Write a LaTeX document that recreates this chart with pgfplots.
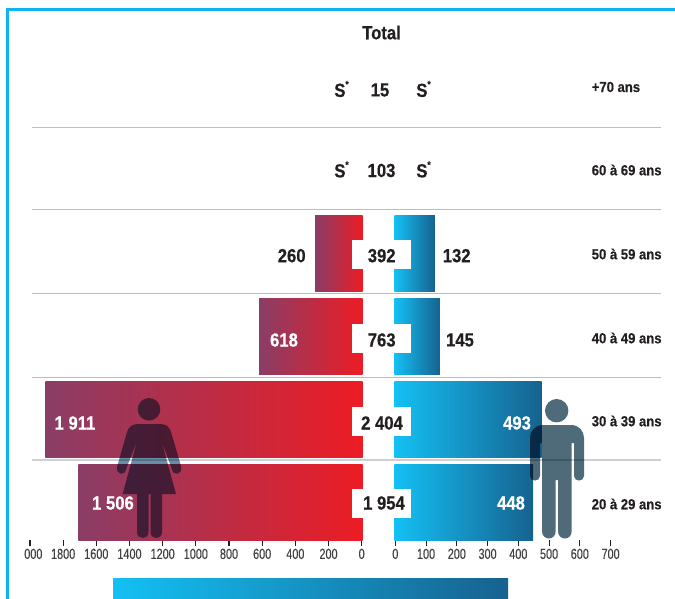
\documentclass[border=0pt]{standalone}
\usepackage{pgfplots}
\pgfplotsset{compat=1.18}
\usepackage{fontspec}
\setmainfont{Liberation Sans}
\newfontfamily\lab[FakeStretch=0.88,FakeBold=0.5]{Liberation Sans}
\newfontfamily\rowf[FakeStretch=0.9,FakeBold=0.3]{Liberation Sans}
\newfontfamily\tk[FakeStretch=0.74,FakeBold=0.2]{Liberation Sans}
\definecolor{wl}{HTML}{8A3D66}
\definecolor{wm}{HTML}{BC3146}
\definecolor{wr}{HTML}{ED1C24}
\definecolor{ml}{HTML}{14C0F4}
\definecolor{mm}{HTML}{0E9CCB}
\definecolor{mr}{HTML}{16628F}
\definecolor{sep}{HTML}{BDBDBD}
\definecolor{sepb}{HTML}{D0D0D0}
\definecolor{txt}{HTML}{231F20}
\definecolor{fig}{HTML}{4F6A79}
\definecolor{figw}{HTML}{6A8CA5}
\definecolor{frame}{HTML}{0DB4EF}
\pgfplotsset{
 common/.style={scale only axis,height=370.875pt,ymin=-0.4578,ymax=5.5,
  hide y axis,axis x line*=bottom,x axis line style={draw=none},
  tick align=outside,xtick pos=bottom,
  major tick length=4.5pt,
  tick style={draw=txt,line width=0.8pt},
  every tick label/.append style={font=\tk\fontsize{11}{11}\selectfont,text=txt!85,yshift=1.5pt},
  /pgf/number format/assume math mode=true,
  clip=false,
  xbar,bar width=57pt,bar shift=0pt},
 wbar/.style={draw=none,left color=wl,middle color=wm,right color=wr,forget plot,xshift=0.75pt},
 mbar/.style={draw=none,left color=ml,middle color=mm,right color=mr,forget plot,xshift=-0.75pt}
}
\newcommand{\Sst}{S\raisebox{0.5em}{\fontsize{7}{7}\selectfont *}}
\begin{document}
\begin{tikzpicture}[x=0.75pt,y=-0.75pt]
\useasboundingbox (0,0) rectangle (675,599);
% frame
\fill[frame] (6,8) rectangle (675,11);
\fill[frame] (6,8) rectangle (9,599);
% separators
\foreach \yy in {127.5,209.5,293.5,377.5}
  \draw[sep,line width=0.75pt] (32,\yy) -- (661,\yy);
\draw[sepb,line width=1.2pt] (32,460) -- (661,460);
% women
\begin{axis}[common,at={(22.5pt,-405pt)},anchor=south west,width=248.775pt,
  xmin=0,xmax=2000,x dir=reverse,
  xtick={0,200,...,2000},
  xticklabels={0,200,400,600,800,1000,1200,1400,1600,1800,\hspace{5pt}000}]
\addplot[wbar] coordinates {(1715,0)};
\addplot[wbar] coordinates {(1914,1)};
\addplot[wbar] coordinates {(624,2)};
\addplot[wbar] coordinates {(287,3)};
\end{axis}
% men
\begin{axis}[common,at={(296.475pt,-405pt)},anchor=south west,width=161.475pt,
  xmin=0,xmax=700,
  xtick={0,100,...,700}]
\addplot[mbar] coordinates {(451,0)};
\addplot[mbar] coordinates {(479,1)};
\addplot[mbar] coordinates {(148,2)};
\addplot[mbar] coordinates {(132,3)};
\end{axis}
% white boxes for totals
\foreach \yy in {254.3,338.5,421.5,503.5}
  \fill[white] (352,\yy-14.5) rectangle (411,\yy+14.5);
% colour bar
\shade[left color=ml,middle color=mm,right color=mr] (113,578) rectangle (508,599);
% figures
\begin{scope}[blend mode=multiply]
\fill[figw] (149,409.3) circle[radius=11.3];
\fill[figw] (138,424) -- (160.5,424) .. controls (166,424) and (169.5,427) .. (171,432)
 -- (181,466) .. controls (183,475) and (173,477) .. (171.5,468)
 -- (161.5,441) -- (176,494) -- (162,494) -- (162,532)
 .. controls (162,540) and (150.5,540) .. (150.5,532) -- (150.5,494) -- (148.5,494) -- (148.5,532)
 .. controls (148.5,540) and (137,540) .. (137,532) -- (137,494) -- (122.7,494)
 -- (137,441) -- (126.5,468)
 .. controls (125,477) and (115,475) .. (117.3,466) -- (127,432)
 .. controls (128.5,427) and (132,424) .. (138,424) -- cycle;
\fill[fig] (556.7,410.7) circle[radius=11.7];
\fill[fig] (543,425) -- (571,425) .. controls (579,425) and (584,431) .. (584,438)
 -- (584,476) .. controls (584,482) and (574,482) .. (574,476) -- (574,443) -- (571.7,443)
 -- (571.7,531) .. controls (571.7,541) and (558,541) .. (558,531) -- (558,480) -- (555.7,480)
 -- (555.7,531) .. controls (555.7,541) and (542,541) .. (542,531) -- (542,443) -- (540,443)
 -- (540,476) .. controls (540,482) and (530,482) .. (530,476) -- (530,438)
 .. controls (530,431) and (535,425) .. (543,425) -- cycle;
\end{scope}
% texts
\tikzset{vl/.style={font=\lab\bfseries\fontsize{14.2}{15}\selectfont,text=txt,inner sep=0pt},
 vw/.style={vl,text=white},
 rl/.style={font=\rowf\bfseries\fontsize{10.9}{12}\selectfont,text=txt,inner sep=0pt,anchor=west}}
\node[vl] at (381.5,32.5) {Total};
\node[vl] at (341.5,89) {\Sst};
\node[vl] at (380,90) {15};
\node[vl] at (423.5,89) {\Sst};
\node[vl] at (341.5,169.5) {\Sst};
\node[vl] at (381.5,170.5) {103};
\node[vl] at (423.5,169.5) {\Sst};
\node[vl] at (291.7,255.7) {260};
\node[vl] at (381.7,255.7) {392};
\node[vl] at (456.7,255.7) {132};
\node[vw] at (284,340) {618};
\node[vl] at (381.7,340) {763};
\node[vl] at (460,340) {145};
\node[vw] at (75,423) {1 911};
\node[vl] at (382,423) {2 404};
\node[vw] at (517,423) {493};
\node[vw] at (113,503) {1 506};
\node[vl] at (384,503) {1 954};
\node[vw] at (511,503) {448};
\node[rl] at (591.5,87) {+70 ans};
\node[rl] at (591.5,170) {60 à 69 ans};
\node[rl] at (591.5,254) {50 à 59 ans};
\node[rl] at (591.5,338) {40 à 49 ans};
\node[rl] at (591.5,421) {30 à 39 ans};
\node[rl] at (591.5,504) {20 à 29 ans};
\end{tikzpicture}
\end{document}
